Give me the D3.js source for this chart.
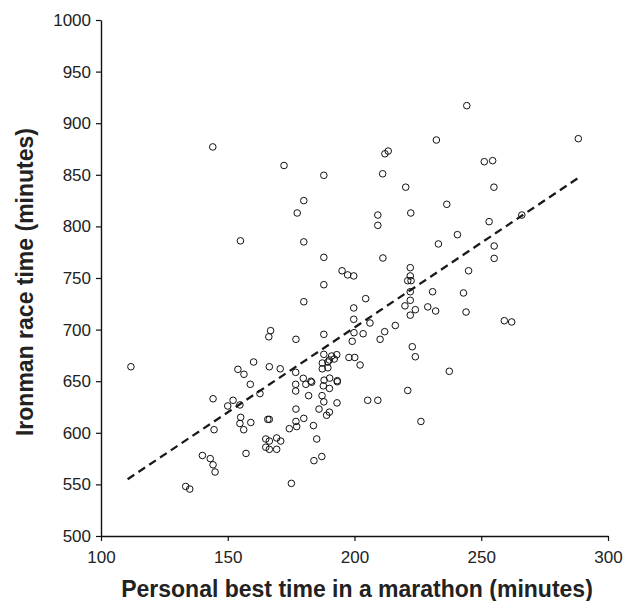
<!DOCTYPE html>
<html>
<head>
<meta charset="utf-8">
<script src="https://cdn.jsdelivr.net/npm/d3@7"></script>
<style>
  html, body { margin: 0; padding: 0; background: #fff; }
  svg { display: block; }
  .tick text { font-family: "Liberation Sans", Arial, sans-serif; font-size: 17px; fill: #222; }
  .title { font-family: "Liberation Sans", Arial, sans-serif; font-weight: bold; font-size: 23px; fill: #222; }
</style>
</head>
<body>
<svg width="634" height="601"></svg>
<script>
// Marathon personal best (minutes) for each athlete
const marathonTimes = [
  158.9, 162.7, 144.2, 152.1, 150, 154.8, 155.1, 154.8, 159.1, 156.3,
  144.6, 165.8, 166.4, 165, 165, 157.2, 140, 143.1, 144.2, 145,
  133.4, 135, 221, 205.2, 209.2, 226.2, 175.1, 184, 187.1, 185.1,
  183.8, 174.3, 177.2, 176.9, 180, 176.9, 189, 190.1, 186, 193.1,
  187.9, 187.2, 181.9, 176.8, 176.8, 180.8, 183.1, 187.7, 190.1, 193.2,
  166.4, 169.3, 170.9, 166.4, 169.3, 155, 180, 180, 166.9, 166.2,
  176.9, 111.8, 160.2, 154, 156.4, 166.4, 170.7, 176.8, 179.8, 187.9,
  187.9, 195.1, 197.3, 199.7, 211.2, 240.6, 233.1, 245, 222, 222,
  221, 222.3, 222, 230.8, 243, 204.4, 222, 219.9, 224, 222,
  228.9, 232, 244, 199.7, 199.7, 206.1, 216.1, 211.9, 210.1, 203.4,
  199.8, 199.1, 187.9, 222.8, 224, 197.8, 200.1, 202.2, 237.4, 187.9,
  191, 193, 190.1, 192, 187.3, 189.5, 187.3, 189.5, 182.8, 188,
  190.2, 193.2, 144.1, 172.2, 187.9, 180, 177.4, 244.3, 232.3, 288.3,
  251.2, 254.5, 220.2, 255, 236.4, 222.2, 253.1, 266, 213.3, 212,
  211.1, 209.2, 209.2, 255.1, 255.1, 259.1, 262
]
// Ironman race time (minutes), same order
const ironmanTimes = [
  647, 638, 633, 631.5, 626, 627, 615, 609, 610, 603,
  603, 613, 613, 594, 586, 580, 578, 575, 569, 562,
  548, 545.5, 641, 631.5, 631.5, 611, 551, 573, 577, 594,
  607, 604, 606, 611, 614, 623, 617, 620, 623, 629,
  630, 636, 636, 640.5, 647, 647, 649, 645.5, 643, 649.5,
  592, 595, 592, 584, 584, 786, 785, 727, 699, 693,
  690.6, 664, 668.6, 661.5, 656.7, 664, 662, 658.6, 652.8, 770,
  743.5, 757, 753, 752, 769.4, 792, 783, 757, 760, 752,
  747.4, 747.4, 736.7, 736.7, 735.5, 730, 728.4, 723, 719.3, 714,
  722, 718, 717, 721, 710, 706.4, 704, 698, 690.6, 696,
  697, 688.7, 695.4, 683.4, 673.7, 673, 673, 665.7, 659.6, 676,
  674.4, 675.7, 670.5, 671.5, 667.6, 668.6, 662, 663, 650, 651,
  653, 650.5, 877, 859, 849.5, 825, 813, 917, 883.7, 885,
  862.7, 863.7, 838, 838, 821.4, 813, 804.6, 811, 873, 870.4,
  851, 811, 801, 781, 769, 708.6, 707.4
]
// Fitted trend line end points [marathon, ironman]
const trendLine = [[110.5, 555], [288.3, 847]]

const xTicks = [100, 150, 200, 250, 300]
const yTicks = [500, 550, 600, 650, 700, 750, 800, 850, 900, 950, 1000]

const svg = d3.select('svg')
const x = d3.scaleLinear().domain([100, 300]).range([101, 608])
const y = d3.scaleLinear().domain([500, 1000]).range([536, 20])

const points = marathonTimes.map((m, i) => ({ m, t: ironmanTimes[i] }))

// Axes: ticks point outwards, plain integer labels
const xAxis = svg.append('g')
  .attr('transform', `translate(0, ${y(500)})`)
  .call(d3.axisBottom(x).tickValues(xTicks).tickFormat(d3.format('d'))
    .tickSize(5).tickSizeOuter(0).tickPadding(10))
const yAxis = svg.append('g')
  .attr('transform', `translate(${x(100)}, 0)`)
  .call(d3.axisLeft(y).tickValues(yTicks).tickFormat(d3.format('d'))
    .tickSize(5).tickSizeOuter(0).tickPadding(5))

svg.selectAll('.domain').attr('stroke', '#111').attr('stroke-width', 1.4)
svg.selectAll('.tick line').attr('stroke', '#111').attr('stroke-width', 1.2)

// Dashed trend line
svg.append('path')
  .datum(trendLine)
  .attr('d', d3.line().x((d) => x(d[0])).y((d) => y(d[1])))
  .attr('fill', 'none')
  .attr('stroke', '#1a1a1a')
  .attr('stroke-width', 2.3)
  .attr('stroke-dasharray', '8,5')

// Athletes as open circles
svg.append('g')
  .selectAll('circle')
  .data(points)
  .enter()
  .append('circle')
  .attr('cx', (d) => x(d.m))
  .attr('cy', (d) => y(d.t))
  .attr('r', 3.3)
  .attr('fill', 'none')
  .attr('stroke', '#111')
  .attr('stroke-width', 1)

svg.append('text')
  .attr('class', 'title')
  .attr('x', 357)
  .attr('y', 597)
  .attr('text-anchor', 'middle')
  .text('Personal best time in a marathon (minutes)')

svg.append('text')
  .attr('class', 'title')
  .attr('transform', `translate(33, 282) rotate(-90)`)
  .attr('text-anchor', 'middle')
  .text('Ironman race time (minutes)')
</script>
</body>
</html>
